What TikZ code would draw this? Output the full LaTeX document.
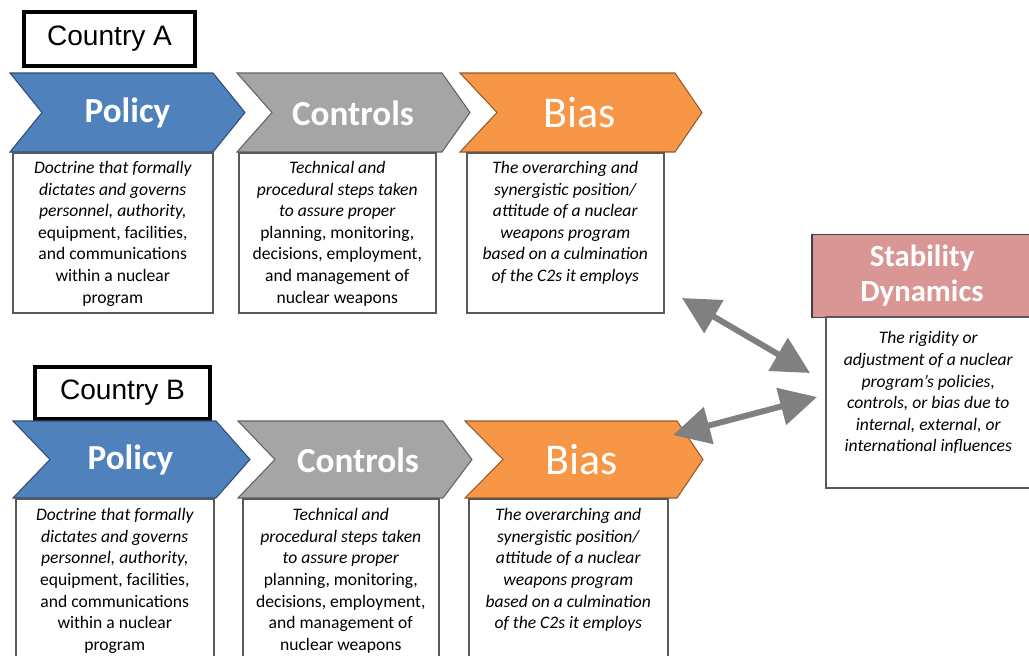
\documentclass[tikz,border=0pt]{standalone}
\usepackage{fontspec}
\setmainfont{Carlito}
\newfontfamily\cntfont{Liberation Sans}
\usetikzlibrary{positioning, arrows.meta}
\definecolor{c2Policy}{HTML}{4F81BD}
\definecolor{c2Controls}{HTML}{A5A5A5}
\definecolor{c2Bias}{HTML}{F79646}
\definecolor{c2Stab}{HTML}{D99694}
\definecolor{c2Arrow}{HTML}{808080}
\definecolor{c2Line}{HTML}{595959}

% fixed-size text block, top aligned: width, height, top gap, text
\newcommand{\descpage}[4]{\begin{minipage}[t][#2][t]{#1}\centering\vspace*{#3}#4\end{minipage}}

\begin{document}
\begin{tikzpicture}[x=0.02cm,y=-0.02cm,
  cntbox/.style={draw, line width=2.3pt, inner sep=0pt, font=\cntfont\fontsize{16}{19}\selectfont},
  head/.style={text=white, font=\fontsize{20}{24}\selectfont\bfseries},
  headbig/.style={text=white, font=\fontsize{25}{30}\selectfont},
  chev/.style={line width=0.6pt, line join=miter},
  descbox/.style={draw=c2Line, line width=0.9pt, fill=white, inner sep=0pt, anchor=north west,
    font=\fontsize{10}{12.3}\selectfont},
  stabhead/.style={draw=black!75, line width=0.8pt, fill=c2Stab, text=white, align=center,
    font=\fontsize{17.5}{20}\selectfont\bfseries},
  dblarrow/.style={draw=c2Arrow, line width=3.4pt,
    arrows={Triangle[length=7.4mm,width=7.4mm]-Triangle[length=7.4mm,width=7.4mm]}}]
\useasboundingbox (0,0) rectangle (1029,656);

% country labels
\node[cntbox, minimum width=3.42cm, minimum height=1.08cm] (cntA) at (109.5,39) {Country A};
\node[cntbox, minimum width=3.5cm, minimum height=1.04cm] (cntB) at (122.5,393) {Country B};

% chevrons: left / notch / corner / tip / top / bottom / colour
\foreach \l/\n/\c/\t/\u/\d/\col in {10/42/213/245/73/152/c2Policy, 237/272/442/470/73/152/c2Controls,
    460/497/675/702/73/152/c2Bias, 13/50/216/250/421/498/c2Policy,
    238/275/443/472/421/498/c2Controls, 465/503/677/703/421/498/c2Bias}
  \draw[chev, fill=\col, draw=\col!60!black] (\l,\u) -- (\c,\u) -- (\t,{(\u+\d)/2}) -- (\c,\d)
    -- (\l,\d) -- (\n,{(\u+\d)/2}) -- cycle;

\node[head] (polA) at (127.5,113) {Policy};
\node[head] (conA) at (353,113) {Controls};
\node[headbig] (biaA) at (580,113) {Bias};
\node[head] (polB) at (130.5,460) {Policy};
\node[head] (conB) at (358,460) {Controls};
\node[headbig] (biaB) at (582,460) {Bias};

% description boxes
\node[descbox] (polAdesc) at (12,152) {\descpage{4.0cm}{3.2cm}{4.8pt}{%
  {\itshape Doctrine that formally\\ dictates and governs\\ personnel, authority,}\\
  equipment, facilities,\\ and communications\\ within a nuclear\\ program}};
\node[descbox] (conAdesc) at (238,152) {\descpage{3.94cm}{3.2cm}{4.8pt}{%
  {\itshape Technical and\\ procedural steps taken\\ to assure proper}\\
  planning, monitoring,\\ decisions, employment,\\ and management of\\ nuclear weapons}};
\node[descbox] (biaAdesc) at (466,152) {\descpage{3.94cm}{3.2cm}{4.8pt}{\itshape
  The overarching and\\ synergistic position/\\ attitude of a nuclear\\ weapons program\\
  based on a culmination\\ of the C2s it employs}};

\node[descbox] (polBdesc) at (15,498) {\descpage{3.96cm}{3.3cm}{5.5pt}{%
  {\itshape Doctrine that formally\\ dictates and governs\\ personnel, authority,}\\
  equipment, facilities,\\ and communications\\ within a nuclear\\ program}};
\node[descbox] (conBdesc) at (242,498) {\descpage{3.92cm}{3.3cm}{5.5pt}{%
  {\itshape Technical and\\ procedural steps taken\\ to assure proper}\\
  planning, monitoring,\\ decisions, employment,\\ and management of\\ nuclear weapons}};
\node[descbox] (biaBdesc) at (468,498) {\descpage{3.98cm}{3.3cm}{5.5pt}{\itshape
  The overarching and\\ synergistic position/\\ attitude of a nuclear\\ weapons program\\
  based on a culmination\\ of the C2s it employs}};

% stability dynamics
\node[stabhead, minimum width=4.4cm, minimum height=1.66cm] (stab) at (922,276) {Stability\\Dynamics};
\node[descbox] (stabdesc) at (825,316) {\descpage{4.1cm}{3.42cm}{8.5pt}{\itshape
  The rigidity or\\ adjustment of a nuclear\\ program’s policies,\\ controls, or bias due to\\
  internal, external, or\\ international influences}};

\coordinate (a1) at (682,298);
\coordinate (a2) at (810,373);
\coordinate (b1) at (673,435);
\coordinate (b2) at (817,397);
\draw[dblarrow] (a1) -- (a2);
\draw[dblarrow] (b1) -- (b2);
\end{tikzpicture}
\end{document}
